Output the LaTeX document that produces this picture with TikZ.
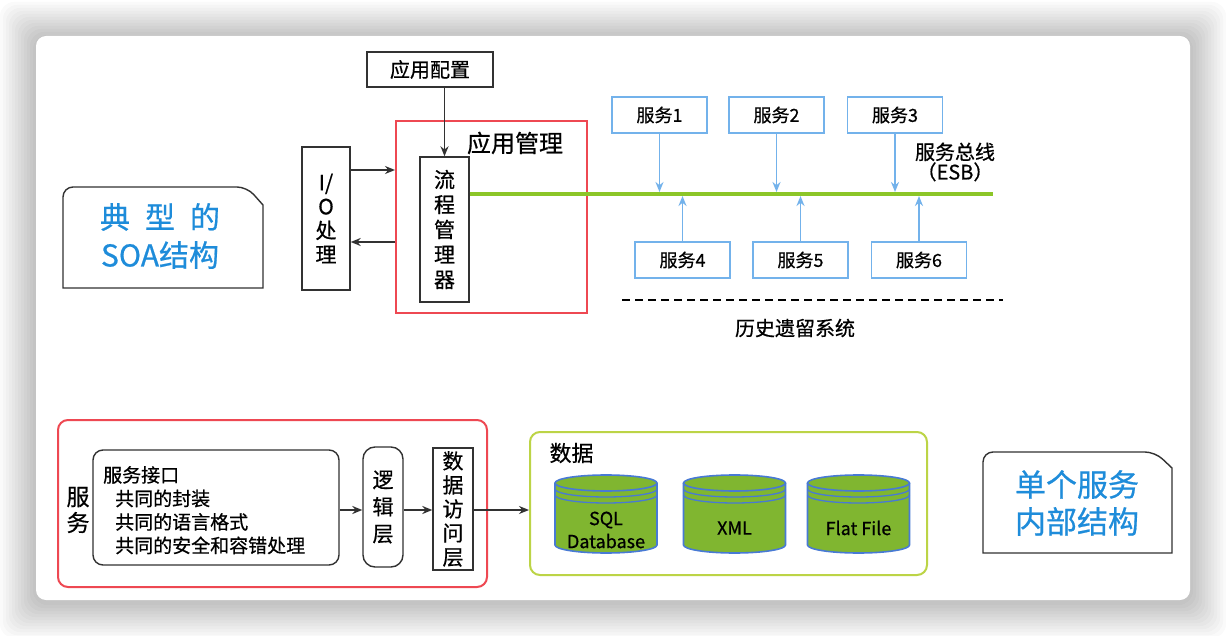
\documentclass[tikz,border=0pt]{standalone}
\usepackage{fontspec}
\setmainfont{Noto Sans CJK SC}[FakeBold=0.6]
\usetikzlibrary{arrows.meta}
\definecolor{boxred}{RGB}{238,72,82}
\definecolor{busgreen}{RGB}{140,198,40}
\definecolor{svcblue}{RGB}{115,178,235}
\definecolor{tagblue}{RGB}{30,140,218}
\definecolor{datagreen}{RGB}{188,212,70}
\definecolor{cylgreen}{RGB}{128,182,48}
\definecolor{cylblue}{RGB}{72,122,212}
\definecolor{inkgray}{RGB}{50,50,50}

\begin{document}
\begin{tikzpicture}[x=1pt, y=-1pt,
		plain/.style={draw=inkgray, line width=1.4pt, inner sep=0pt, align=center},
		svc/.style={draw=svcblue, line width=1.8pt, minimum width=95pt, minimum height=36pt, inner sep=0pt, font=\fontsize{18}{20}\selectfont},
		arr/.style={-{Stealth[length=10pt,width=8pt]}, line width=1.9pt, draw=inkgray},
		blarr/.style={-{Stealth[length=10pt,width=8pt]}, line width=1.8pt, draw=svcblue, shorten >=2pt},
		tag/.style={text=tagblue, align=center, font=\fontsize{30}{38}\selectfont},
		vert/.style={align=center, font=\fontsize{21}{25}\selectfont},
		cyl/.style={draw=cylblue, line width=1.6pt, fill=cylgreen}]
		\useasboundingbox (0,0) rectangle (1226,636);
		\fill[white] (0,0) rectangle (1226,636);
		% card with soft shadow
		\foreach \i in {1,...,12}
			\fill[black, opacity=0.02, rounded corners=14pt] (36-3*\i,38-3*\i) rectangle (1190+3*\i,602+3*\i);
		\fill[white, rounded corners=10pt] (36,36) rectangle (1190,600);

		% typical SOA structure
		\node[plain, minimum width=126pt, minimum height=35pt, font=\fontsize{20}{22}\selectfont] (cfg) at (430,69.5) {应用配置};
		\node[draw=boxred, line width=2pt, minimum width=191pt, minimum height=192pt] (mgr) at (491.5,217) {};
		\node[font=\fontsize{24}{26}\selectfont] (mgrlabel) at (515,143) {应用管理};
		\node[plain, vert, minimum width=49pt, minimum height=145pt] (flow) at (444.5,229.5) {流\\程\\管\\理\\器};
		\node[plain, vert, minimum width=48pt, minimum height=143pt, font=\fontsize{21}{24}\selectfont] (io) at (326,218.5) {I/\\O\\处\\理};
		\draw[arr] (io.east |- 0,170) -- (mgr.west |- 0,170);
		\draw[arr] (mgr.west |- 0,242) -- (io.east |- 0,242);
		\draw[arr] (flow.north |- cfg.south) -- (flow.north);

		\coordinate (busend) at (993,194);
		\draw[busgreen, line width=4pt] (flow.east |- busend) -- (busend);
		\foreach \n/\x in {1/659.5, 2/776.5, 3/895}
			\node[svc] (s\n) at (\x,115) {服务\n};
		\foreach \n/\x in {4/682.5, 5/800.5, 6/919}
			\node[svc] (s\n) at (\x,260) {服务\n};
		\foreach \n in {1,2,3}
			\draw[blarr] (s\n.south) -- (s\n.south |- busend);
		\foreach \n in {4,5,6}
			\draw[blarr] (s\n.north) -- (s\n.north |- busend);
		\node[align=center, font=\fontsize{20}{20}\selectfont] (esb) at (955,162) {服务总线\\（ESB）};
		\draw[line width=2pt, dash pattern=on 8pt off 5pt] (622,300) coordinate (legl) -- (1003,300) coordinate (legr);
		\node[font=\fontsize{20}{22}\selectfont] (legacy) at (795,328) {历史遗留系统};

		% side tags
		\draw[inkgray, line width=1.4pt] (63,288) [rounded corners=10pt] -- (63,187) -- (247,187) [sharp corners] -- (263,205) -- (263,288) -- cycle;
		\node[tag] (soa) at (160,236) {典\hspace{0.5em}型\hspace{0.5em}的\\SOA结构};
		\draw[inkgray, line width=1.4pt] (983,553) [rounded corners=10pt] -- (983,452) -- (1155,452) [sharp corners] -- (1172,468) -- (1172,553) -- cycle;
		\node[tag, font=\fontsize{31}{37}\selectfont] (single) at (1077,503) {单个服务\\内部结构};

		% single service
		\node[draw=boxred, line width=2pt, rounded corners=10pt, minimum width=429pt, minimum height=167pt] (svcbox) at (272.5,503.5) {};
		\node[vert, font=\fontsize{23}{26}\selectfont] (svclabel) at (78,510) {服\\务};
		\node[plain, rounded corners=10pt, minimum width=246pt, minimum height=115pt] (iface) at (216,507.5) {};
		\node[anchor=north west, align=left, inner sep=0pt, font=\fontsize{19}{23.5}\selectfont] (ifacetext) at (103,466) {服务接口\\\hspace*{12pt}共同的封装\\\hspace*{12pt}共同的语言格式\\\hspace*{12pt}共同的安全和容错处理};
		\node[plain, vert, rounded corners=12pt, minimum width=40pt, minimum height=120pt, font=\fontsize{21}{27}\selectfont] (logic) at (383,507) {逻\\辑\\层};
		\node[plain, vert, minimum width=40pt, minimum height=122pt, font=\fontsize{21}{24}\selectfont] (dal) at (453,509) {数\\据\\访\\问\\层};
		\node[draw=datagreen, line width=2pt, rounded corners=10pt, minimum width=397pt, minimum height=143pt] (data) at (728.5,503.5) {};
		\node[anchor=west, font=\fontsize{22}{24}\selectfont] (datalabel) at (546,453) {数据};
		\draw[arr] (iface.east |- 0,510) -- (logic.west |- 0,510);
		\draw[arr] (logic.east |- 0,510) -- (dal.west |- 0,510);
		\draw[arr] (dal.east |- 0,510) -- (data.west |- 0,510);

		\foreach \cx/\nm/\txt/\ty in {606/sql/{SQL\\Database}/530, 734.5/xml/XML/528, 858.5/flat/Flat File/528} {
			\draw[cyl] (\cx-51,483) -- (\cx-51,545) arc(180:0:51 and 8) -- (\cx+51,483);
			\draw[cyl] (\cx,483) ellipse (51 and 8);
			\draw[cylblue, line width=1.3pt] (\cx-51,489) arc(180:0:51 and 8);
			\draw[cylblue, line width=1.3pt] (\cx-51,495) arc(180:0:51 and 8);
			\node[align=center, font=\fontsize{18}{23}\selectfont] (\nm) at (\cx,\ty) {\txt};
		}
	\end{tikzpicture}
\end{document}
